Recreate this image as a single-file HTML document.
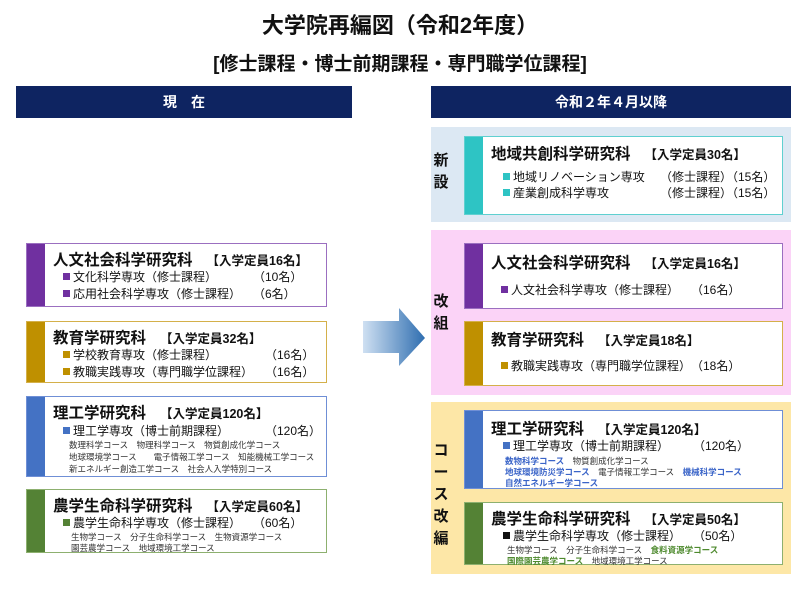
<!DOCTYPE html>
<html><head><meta charset="utf-8"><style>
*{margin:0;padding:0;box-sizing:border-box}
body{width:800px;height:600px;background:#fff;position:relative;overflow:hidden;font-family:"Liberation Sans","Noto Sans CJK JP",sans-serif;color:#111}
.a{position:absolute;white-space:nowrap}
.t{left:0;width:800px;text-align:center;font-weight:bold}
.hd{background:#0e2461;color:#fff;font-weight:bold;font-size:14px;text-align:center;line-height:32px}
.box{position:absolute;background:#fff;border:1.5px solid}
.bar{position:absolute;left:0;top:0;bottom:0;width:18px}
.h{position:absolute;font-weight:bold;font-size:15.5px;white-space:nowrap}
.h span{font-size:12.5px;margin-left:14px}
.l{position:absolute;font-size:12px;white-space:nowrap}
.s{position:absolute;font-size:8.5px;white-space:nowrap;color:#333}
.sq{display:inline-block;width:7px;height:7px;margin-right:3px;vertical-align:1px}
.v{position:absolute;font-weight:bold;font-size:15px;width:20px;text-align:center;line-height:22px}
.bl{color:#3a64c8;font-weight:bold}.gr{color:#4e8a2e;font-weight:bold}
</style></head><body>
<div class="a t" style="top:8px;font-size:22px">大学院再編図（令和2年度）</div>
<div class="a t" style="top:49px;font-size:19px">[修士課程・博士前期課程・専門職学位課程]</div>
<div class="a hd" style="left:16px;top:86px;width:336px;height:32px">現　在</div>
<div class="a hd" style="left:431px;top:86px;width:360px;height:32px">令和２年４月以降</div>

<!-- left -->
<div class="box" style="left:26px;top:243px;width:301px;height:64px;border-color:#9b6fc0">
<div class="bar" style="background:#7030a0"></div>
<div class="h" style="left:26px;top:4px">人文社会科学研究科<span>【入学定員16名】</span></div>
<div class="l" style="left:36px;top:24px"><i class="sq" style="background:#7030a0"></i>文化科学専攻（修士課程）　　　　（10名）</div>
<div class="l" style="left:36px;top:41px"><i class="sq" style="background:#7030a0"></i>応用社会科学専攻（修士課程）　　（6名）</div>
</div>
<div class="box" style="left:26px;top:321px;width:301px;height:62px;border-color:#d4b04a">
<div class="bar" style="background:#bf9000"></div>
<div class="h" style="left:26px;top:4px">教育学研究科<span>【入学定員32名】</span></div>
<div class="l" style="left:36px;top:24px"><i class="sq" style="background:#bf9000"></i>学校教育専攻（修士課程）　　　　　（16名）</div>
<div class="l" style="left:36px;top:41px"><i class="sq" style="background:#bf9000"></i>教職実践専攻（専門職学位課程）　　（16名）</div>
</div>
<div class="box" style="left:26px;top:396px;width:301px;height:81px;border-color:#6f8fd6">
<div class="bar" style="background:#4472c4"></div>
<div class="h" style="left:26px;top:4px">理工学研究科<span>【入学定員120名】</span></div>
<div class="l" style="left:36px;top:25px"><i class="sq" style="background:#4472c4"></i>理工学専攻（博士前期課程）　　　　（120名）</div>
<div class="s" style="left:42px;top:42px">数理科学コース　物理科学コース　物質創成化学コース</div>
<div class="s" style="left:42px;top:54px">地球環境学コース　　電子情報工学コース　知能機械工学コース</div>
<div class="s" style="left:42px;top:66px">新エネルギー創造工学コース　社会人入学特別コース</div>
</div>
<div class="box" style="left:26px;top:489px;width:301px;height:64px;border-color:#8db06f">
<div class="bar" style="background:#548235"></div>
<div class="h" style="left:26px;top:4px">農学生命科学研究科<span>【入学定員60名】</span></div>
<div class="l" style="left:36px;top:24px"><i class="sq" style="background:#548235"></i>農学生命科学専攻（修士課程）　　（60名）</div>
<div class="s" style="left:44px;top:41px">生物学コース　分子生命科学コース　生物資源学コース</div>
<div class="s" style="left:44px;top:52px">園芸農学コース　地域環境工学コース</div>
</div>

<!-- arrow -->
<svg class="a" style="left:363px;top:308px" width="64" height="60"><defs><linearGradient id="g" x1="0" x2="1"><stop offset="0" stop-color="#cfe0f2"/><stop offset="1" stop-color="#2f6eb0"/></linearGradient></defs><polygon points="0,13 36,13 36,0 62,30 36,58 36,45 0,45" fill="url(#g)"/></svg>

<!-- right -->
<div class="a" style="left:431px;top:127px;width:360px;height:95px;background:#dce8f3"></div>
<div class="a" style="left:431px;top:230px;width:360px;height:165px;background:#fbd3f7"></div>
<div class="a" style="left:431px;top:402px;width:360px;height:172px;background:#fde7a7"></div>
<div class="v" style="left:431px;top:150px">新<br>設</div>
<div class="v" style="left:431px;top:291px">改<br>組</div>
<div class="v" style="left:431px;top:440px">コ<br>ー<br>ス<br>改<br>編</div>

<div class="box" style="left:464px;top:136px;width:319px;height:79px;border-color:#5fd0d0">
<div class="bar" style="background:#2ec4c4"></div>
<div class="h" style="left:26px;top:5px">地域共創科学研究科<span>【入学定員30名】</span></div>
<div class="l" style="left:38px;top:31px"><i class="sq" style="background:#2ec4c4"></i>地域リノベーション専攻</div>
<div class="l" style="left:38px;top:47px"><i class="sq" style="background:#2ec4c4"></i>産業創成科学専攻</div>
<div class="l" style="left:195px;top:31px">（修士課程）（15名）</div>
<div class="l" style="left:195px;top:47px">（修士課程）（15名）</div>
</div>
<div class="box" style="left:464px;top:243px;width:319px;height:66px;border-color:#9b6fc0">
<div class="bar" style="background:#7030a0"></div>
<div class="h" style="left:26px;top:7px">人文社会科学研究科<span>【入学定員16名】</span></div>
<div class="l" style="left:36px;top:37px"><i class="sq" style="background:#7030a0"></i>人文社会科学専攻（修士課程）　　（16名）</div>
</div>
<div class="box" style="left:464px;top:321px;width:319px;height:65px;border-color:#d4b04a">
<div class="bar" style="background:#bf9000"></div>
<div class="h" style="left:26px;top:6px">教育学研究科<span>【入学定員18名】</span></div>
<div class="l" style="left:36px;top:35px"><i class="sq" style="background:#bf9000"></i>教職実践専攻（専門職学位課程）　（18名）</div>
</div>
<div class="box" style="left:464px;top:410px;width:319px;height:79px;border-color:#6f8fd6">
<div class="bar" style="background:#4472c4"></div>
<div class="h" style="left:26px;top:6px">理工学研究科<span>【入学定員120名】</span></div>
<div class="l" style="left:38px;top:26px"><i class="sq" style="background:#4472c4"></i>理工学専攻（博士前期課程）　　　（120名）</div>
<div class="s" style="left:40px;top:44px"><b class="bl">数物科学コース</b>　物質創成化学コース</div>
<div class="s" style="left:40px;top:55px"><b class="bl">地球環境防災学コース</b>　電子情報工学コース　<b class="bl">機械科学コース</b></div>
<div class="s" style="left:40px;top:66px"><b class="bl">自然エネルギー学コース</b></div>
</div>
<div class="box" style="left:464px;top:502px;width:319px;height:63px;border-color:#8db06f">
<div class="bar" style="background:#548235"></div>
<div class="h" style="left:26px;top:4px">農学生命科学研究科<span>【入学定員50名】</span></div>
<div class="l" style="left:38px;top:24px"><i class="sq" style="background:#111"></i>農学生命科学専攻（修士課程）　　（50名）</div>
<div class="s" style="left:42px;top:41px">生物学コース　分子生命科学コース　<b class="gr">食料資源学コース</b></div>
<div class="s" style="left:42px;top:52px"><b class="gr">国際園芸農学コース</b>　地域環境工学コース</div>
</div>
</body></html>
